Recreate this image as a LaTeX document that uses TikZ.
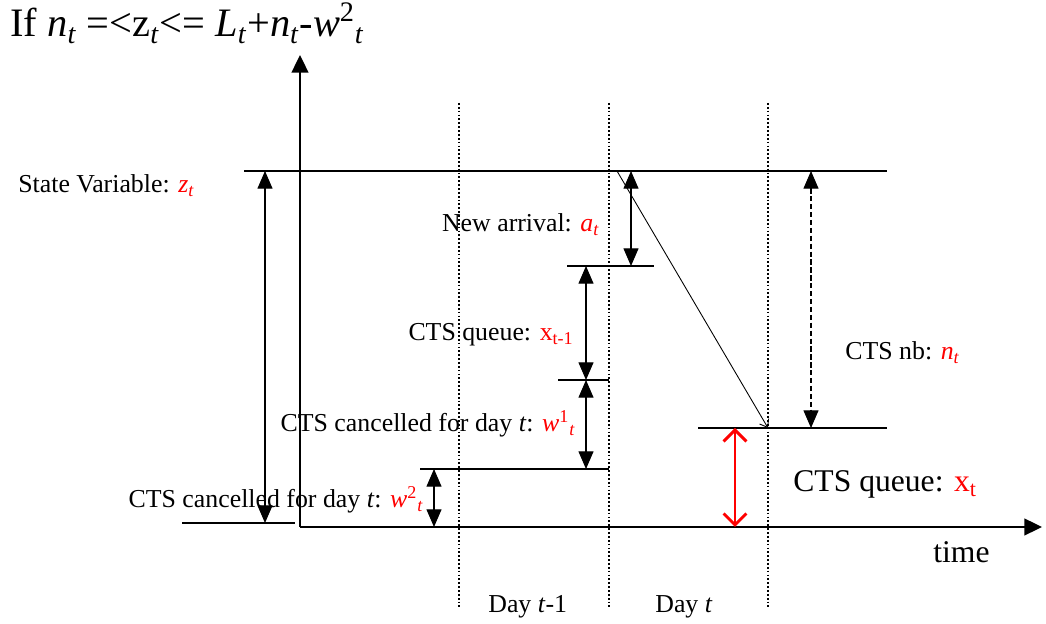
\documentclass[tikz,border=0pt]{standalone}
\usepackage{fontspec}
\setmainfont{Liberation Serif}
\usetikzlibrary{arrows.meta}
\newcommand*{\yTop}{171}
\newcommand*{\yArr}{266}
\newcommand*{\yQueue}{380}
\newcommand*{\yCanc}{469}
\newcommand*{\yNb}{428}
\newcommand*{\yAxis}{527}
\newcommand*{\tsub}[1]{\textsubscript{\textit{#1}}}
\tikzset{
  levelline/.style={line width=0.6pt},
  dimarrow/.style={{Triangle[length=10pt,width=8.5pt]}-{Triangle[length=10pt,width=8.5pt]},line width=0.6pt},
  axis/.style={-{Triangle[length=10pt,width=9.5pt]},line width=1.1pt},
  dayline/.style={dash pattern=on 1pt off 1.2pt,line width=0.8pt},
  lbl/.style={font=\fontsize{14.7}{18}\selectfont,inner sep=0pt},
  biglbl/.style={font=\fontsize{18}{22}\selectfont,inner sep=0pt},
  val/.style={red}
}
\begin{document}
\begin{tikzpicture}[x=0.02cm,y=-0.02cm]
    \useasboundingbox (0,0) rectangle (1046,624);
    % axes
    \coordinate (O) at (300,\yAxis);
    \coordinate (yEnd) at (300,55);
    \coordinate (xEnd) at (1042,\yAxis);
    \draw [axis] (O) -- (yEnd);
    \draw [axis] (O) -- (xEnd);
    \foreach \x in {459,609,768} {
        \draw [dayline] (\x,103) -- (\x,607);
    }
    % levels
    \coordinate (topL) at (244,\yTop);
    \coordinate (topR) at (887,\yTop);
    \coordinate (arrL) at (567,\yArr);
    \coordinate (arrR) at (654,\yArr);
    \coordinate (queL) at (558,\yQueue);
    \coordinate (queR) at (609,\yQueue);
    \coordinate (canL) at (420,\yCanc);
    \coordinate (canR) at (609,\yCanc);
    \coordinate (nbL) at (698,\yNb);
    \coordinate (nbR) at (887,\yNb);
    \coordinate (botL) at (182,523);
    \coordinate (botR) at (295,523);
    \draw [levelline] (topL) -- (topR);
    \draw [line width=1.1pt] (arrL) -- (arrR);
    \draw [levelline] (queL) -- (queR);
    \draw [levelline] (canL) -- (canR);
    \draw [levelline] (nbL) -- (nbR);
    \draw [levelline] (botL) -- (botR);
    % dimensions
    \coordinate (zA) at (265,\yTop);
    \coordinate (zB) at (265,523);
    \coordinate (aA) at (631,\yTop);
    \coordinate (aB) at (631,\yArr);
    \coordinate (qA) at (586,\yArr);
    \coordinate (qB) at (586,\yQueue);
    \coordinate (wA) at (586,\yCanc);
    \coordinate (vA) at (434,\yCanc);
    \coordinate (vB) at (434,\yAxis);
    \coordinate (nA) at (811,\yTop);
    \coordinate (nB) at (811,\yNb);
    \coordinate (xA) at (735,\yNb);
    \coordinate (xB) at (735,\yAxis);
    \coordinate (dA) at (617,\yTop);
    \coordinate (dB) at (768,\yNb);
    \draw [dimarrow] (zA) -- (zB);
    \draw [dimarrow] (aA) -- (aB);
    \draw [dimarrow] (qA) -- (qB);
    \draw [dimarrow] (qB) -- (wA);
    \draw [dimarrow] (vA) -- (vB);
    \draw [dimarrow,dash pattern=on 3pt off 1.5pt] (nA) -- (nB);
    \draw [-{Straight Barb[length=4pt,width=6pt]},line width=0.5pt] (dA) -- (dB);
    \draw [{Straight Barb[length=6.5pt,width=13pt]}-{Straight Barb[length=6.5pt,width=13pt]},red,line width=1.7pt] (xA) -- (xB);
    % texts
    \node [lbl,font=\fontsize{23}{27}\selectfont,anchor=base west] (title) at (10,37)
        {If \textit{n}\tsub{t} =<z\tsub{t}<= \textit{L}\tsub{t}+\textit{n}\tsub{t}-\textit{w}\textsuperscript{2}\tsub{t}};
    \node [lbl,anchor=base west] (zLbl) at (18,193) {State Variable: \textcolor{red}{\textit{z}\tsub{t}}};
    \node [lbl,anchor=base east] (aLbl) at (600,232) {New arrival: \textcolor{red}{\textit{a}\tsub{t}}};
    \node [lbl,anchor=base east] (qLbl) at (574,341) {CTS queue: \textcolor{red}{x\textsubscript{t-1}}};
    \node [lbl,anchor=base east] (wLbl) at (576,432) {CTS cancelled for day \textit{t}: \textcolor{red}{\textit{w}\textsuperscript{1}\tsub{t}}};
    \node [lbl,anchor=base east] (vLbl) at (424,508) {CTS cancelled for day \textit{t}: \textcolor{red}{\textit{w}\textsuperscript{2}\tsub{t}}};
    \node [lbl,anchor=base west] (nLbl) at (845,360) {CTS nb: \textcolor{red}{\textit{n}\tsub{t}}};
    \node [biglbl,anchor=base west] (xLbl) at (793,492) {CTS queue: \textcolor{red}{x\textsubscript{t}}};
    \node [biglbl,anchor=base west] (time) at (933,563) {time};
    \node [lbl,anchor=base west] (dayA) at (488,613) {Day \textit{t}-1};
    \node [lbl,anchor=base west] (dayB) at (655,613) {Day \textit{t}};
\end{tikzpicture}
\end{document}
